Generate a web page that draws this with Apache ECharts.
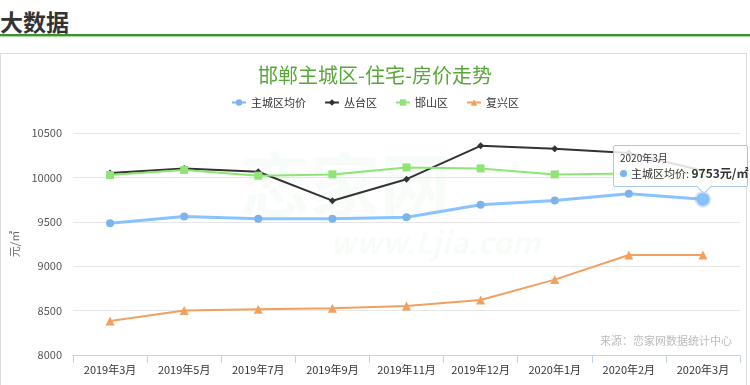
<!DOCTYPE html>
<html>
<head>
<meta charset="utf-8">
<script src="https://cdn.jsdelivr.net/npm/echarts@6/dist/echarts.min.js"></script>
<style>
html,body{margin:0;padding:0;background:#fff;width:750px;height:385px;overflow:hidden;font-family:"Noto Sans CJK SC","Noto Sans",sans-serif;}
#head{position:absolute;left:0;top:6px;font-size:23px;font-weight:bold;color:#333;line-height:30px;}
#bar1{position:absolute;left:0;top:34px;width:750px;height:2px;background:#3f8f3a;}
#bar2{position:absolute;left:0;top:36px;width:750px;height:1px;background:#a6dd94;}
#box{position:absolute;left:0;top:53px;width:747px;height:340px;border:1px solid #dcdcdc;box-sizing:border-box;}
#chart{position:absolute;left:0;top:0;width:750px;height:385px;}
</style>
</head>
<body>
<div id="head">大数据</div>
<div id="bar1"></div>
<div id="bar2"></div>
<div id="box"></div>
<div id="chart"></div>
<script>
const categories = ['2019年3月','2019年5月','2019年7月','2019年9月','2019年11月','2019年12月','2020年1月','2020年2月','2020年3月'];
const seriesNames = ['主城区均价','丛台区','邯山区','复兴区'];
const mainCity = [9484, 9560, 9534, 9534, 9552, 9691, 9739, 9815, 9753];
const congtai = [10050, 10101, 10064, 9738, 9980, 10356, 10322, 10275, 10075];
const hanshan = [10027, 10083, 10019, 10034, 10112, 10101, 10034, 10045, 10045];
const fuxing = [8383, 8500, 8514, 8526, 8552, 8619, 8849, 9126, 9126];
const yTicks = [8000, 8500, 9000, 9500, 10000, 10500];

const chart = echarts.init(document.getElementById('chart'), null, {renderer:'canvas'});
const font = '"Noto Sans CJK SC","Noto Sans",sans-serif';
const option = {
  animation: false,
  textStyle: {fontFamily: font},
  title: {
    text: '邯郸主城区-住宅-房价走势',
    left: 'center', top: 60,
    textStyle: {color: '#5aa83a', fontSize: 20, fontWeight: 'normal', fontFamily: font}
  },
  legend: {
    data: seriesNames,
    top: 92, left: 'center',
    itemWidth: 14, itemHeight: 8, itemGap: 18,
    textStyle: {fontSize: 11, color: '#333', fontFamily: font}
  },
  tooltip: {
    trigger: 'item',
    backgroundColor: 'rgba(255,255,255,0.85)',
    borderColor: '#a8c8e8',
    borderWidth: 1,
    padding: [3, 6],
    extraCssText: 'box-shadow:none;border-radius:2px;overflow:visible;width:121px;box-sizing:content-box;white-space:nowrap;',
    textStyle: {fontSize: 11, color: '#333'},
    position: function (pt) {
      return [pt[0] - 90, pt[1] - 54];
    },
    formatter: function (p) {
      return '<div style="font-size:10px;line-height:14px;color:#333;margin-top:2px">' + p.name + '</div>' +
        '<div style="font-size:11px;line-height:16px;color:#333;margin-bottom:2px"><span style="display:inline-block;width:7px;height:7px;border-radius:50%;background:' + p.color + ';margin-right:4px;vertical-align:1px"></span>' +
        p.seriesName + ': <b style="font-size:12px">' + p.value + '元/㎡</b></div>' +
        '<div style="position:absolute;left:85px;bottom:-6px;width:9px;height:9px;background:#fff;border-right:1px solid #a8c8e8;border-bottom:1px solid #a8c8e8;transform:rotate(45deg);"></div>';
    }
  },
  grid: {left: 73, right: 10, top: 133, bottom: 30},
  xAxis: {
    type: 'category',
    data: categories,
    boundaryGap: true,
    axisLine: {lineStyle: {color: '#c3d3e6', width: 1}},
    axisTick: {show: true, length: 8, lineStyle: {color: '#c3d3e6'}},
    axisLabel: {fontSize: 11, color: '#333', margin: 9, interval: 0, fontFamily: font}
  },
  yAxis: {
    type: 'value',
    min: yTicks[0], max: yTicks[yTicks.length - 1], interval: 500,
    name: '元/㎡', nameLocation: 'middle', nameGap: 50, nameRotate: 90,
    nameTextStyle: {fontSize: 11, color: '#666', fontFamily: font},
    axisLine: {show: false},
    axisTick: {show: false},
    axisLabel: {fontSize: 11, color: '#555', margin: 11, fontFamily: font,
      formatter: function (v) { return String(v); }},
    splitLine: {lineStyle: {color: '#e6e6e6'}}
  },
  graphic: [
    {type: 'text', left: 240, top: 150, z: -1, silent: true,
     style: {text: '恋家网', fontSize: 70, fontWeight: 'bold', fill: 'rgba(120,200,140,0.06)', fontFamily: font}},
    {type: 'text', left: 330, top: 228, z: -1, silent: true,
     style: {text: 'www.Ljia.com', fontSize: 30, fontWeight: 'bold', fontStyle: 'italic', fill: 'rgba(120,200,140,0.06)', fontFamily: font}},
    {type: 'text', right: 18, top: 335, silent: true,
     style: {text: '来源：恋家网数据统计中心', fontSize: 11, fill: '#bbb', fontFamily: font}}
  ],
  series: [
    {name: seriesNames[0], type: 'line', data: mainCity, z: 5,
     symbol: 'circle', symbolSize: 8,
     itemStyle: {color: '#7db2ea'}, lineStyle: {width: 3, color: '#7db2ea'},
     emphasis: {scale: 1.6, itemStyle: {borderColor: 'rgba(125,178,234,0.35)', borderWidth: 4}}},
    {name: seriesNames[1], type: 'line', data: congtai,
     symbol: 'diamond', symbolSize: 7,
     itemStyle: {color: '#333'}, lineStyle: {width: 2, color: '#333'}},
    {name: seriesNames[2], type: 'line', data: hanshan,
     symbol: 'rect', symbolSize: 8,
     itemStyle: {color: '#8ee575'}, lineStyle: {width: 2, color: '#8ee575'}},
    {name: seriesNames[3], type: 'line', data: fuxing,
     symbol: 'triangle', symbolSize: 9,
     itemStyle: {color: '#f2a05f'}, lineStyle: {width: 2, color: '#f2a05f'}}
  ]
};
chart.setOption(option);
chart.dispatchAction({type: 'highlight', seriesIndex: 0, dataIndex: 8});
chart.dispatchAction({type: 'showTip', seriesIndex: 0, dataIndex: 8});
</script>
</body>
</html>
